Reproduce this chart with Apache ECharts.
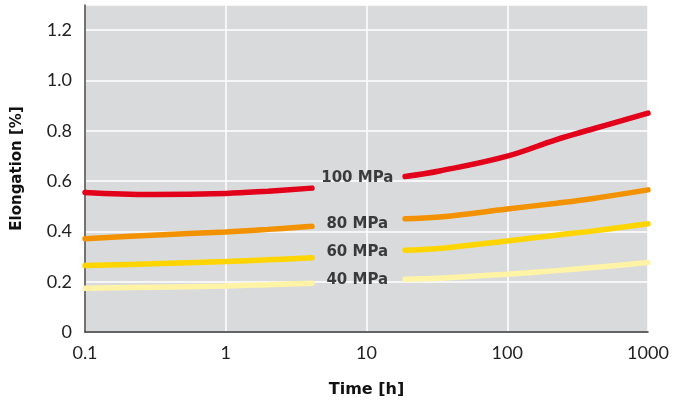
<!DOCTYPE html>
<html><head><meta charset="utf-8">
<script src="https://cdn.jsdelivr.net/npm/echarts@6/dist/echarts.min.js"></script>
<style>html,body{margin:0;padding:0;background:#fff}#c{width:679px;height:403px}</style>
</head><body><div id="c"></div>
<script>
// Time [h] values and elongation [%] per stress level (two segments each, gap around the labels)
const t1 = [0.1, 0.3, 1, 2, 4.1];
const t2 = [18.8, 33, 100, 224, 387, 1000];
const mpa100a = [0.555, 0.547, 0.551, 0.560, 0.572];
const mpa100b = [0.618, 0.640, 0.699, 0.765, 0.804, 0.870];
const mpa80a = [0.371, 0.385, 0.398, 0.408, 0.420];
const mpa80b = [0.450, 0.457, 0.489, 0.512, 0.529, 0.565];
const mpa60a = [0.264, 0.271, 0.280, 0.287, 0.295];
const mpa60b = [0.325, 0.332, 0.362, 0.385, 0.400, 0.430];
const mpa40a = [0.174, 0.178, 0.183, 0.188, 0.194];
const mpa40b = [0.210, 0.214, 0.230, 0.244, 0.255, 0.276];
const labelNames = ['100 MPa', '80 MPa', '60 MPa', '40 MPa'];
const labelX = [8.6, 8.6, 8.6, 8.6];
const labelY = [0.612, 0.430, 0.316, 0.206];
const xTicks = [0.1, 1, 10, 100, 1000];
const colors = ['#e2001a', '#f39200', '#ffd500', '#fff3a6'];

const pairs = (xs, ys) => xs.map((x, i) => [x, ys[i]]);
const segs = [[mpa100a, mpa100b], [mpa80a, mpa80b], [mpa60a, mpa60b], [mpa40a, mpa40b]];
const series = [];
segs.forEach((s, k) => {
  [[t1, s[0]], [t2, s[1]]].forEach(([xs, ys]) => {
    series.push({
      type: 'line', data: pairs(xs, ys), smooth: 0.4, symbol: 'none',
      lineStyle: { color: colors[k], width: 5.5, cap: 'round' }, z: 3
    });
  });
});
series.push({
  type: 'scatter', symbolSize: 0,
  data: labelNames.map((n, i) => ({ name: n, value: [labelX[i], labelY[i]] })),
  label: { show: true, position: 'inside', formatter: p => p.name,
    fontFamily: 'DejaVu Sans', fontWeight: 'bold', fontSize: 15, color: '#111' },
  z: 4
});

const chart = echarts.init(document.getElementById('c'));
chart.setOption({
  animation: false,
  grid: { left: 85, right: 31, top: 5, bottom: 69, show: true, backgroundColor: '#d9dadc', borderWidth: 0 },
  xAxis: {
    type: 'log', logBase: 10, min: 0.1, max: 1000,
    name: 'Time [h]', nameLocation: 'middle', nameGap: 50,
    nameTextStyle: { fontFamily: 'DejaVu Sans', fontWeight: 'bold', fontSize: 16, color: '#111' },
    axisLine: { lineStyle: { color: '#333', width: 1.5 } },
    axisTick: { show: false },
    minorTick: { show: false },
    axisLabel: { fontFamily: 'Lato', fontSize: 18, color: '#222', margin: 12,
      formatter: v => { const m = xTicks.find(t => Math.abs(t - v) / t < 1e-6); return m !== undefined ? String(m) : ''; } },
    splitLine: { show: true, lineStyle: { color: '#fff', width: 1.5 } }
  },
  yAxis: {
    type: 'value', min: 0, max: 1.3, interval: 0.2,
    name: 'Elongation [%]', nameLocation: 'middle', nameGap: 60, nameRotate: 90,
    nameTextStyle: { fontFamily: 'DejaVu Sans', fontWeight: 'bold', fontSize: 15, color: '#111' },
    axisLine: { show: true, lineStyle: { color: '#444', width: 1.5 } },
    axisTick: { show: false },
    axisLabel: { fontFamily: 'Lato', fontSize: 18, color: '#222', margin: 13,
      formatter: v => v > 1.25 ? '' : (v === 0 ? '0' : v.toFixed(1)) },
    splitLine: { show: true, lineStyle: { color: '#fff', width: 1.5 } }
  },
  series
});
</script></body></html>
